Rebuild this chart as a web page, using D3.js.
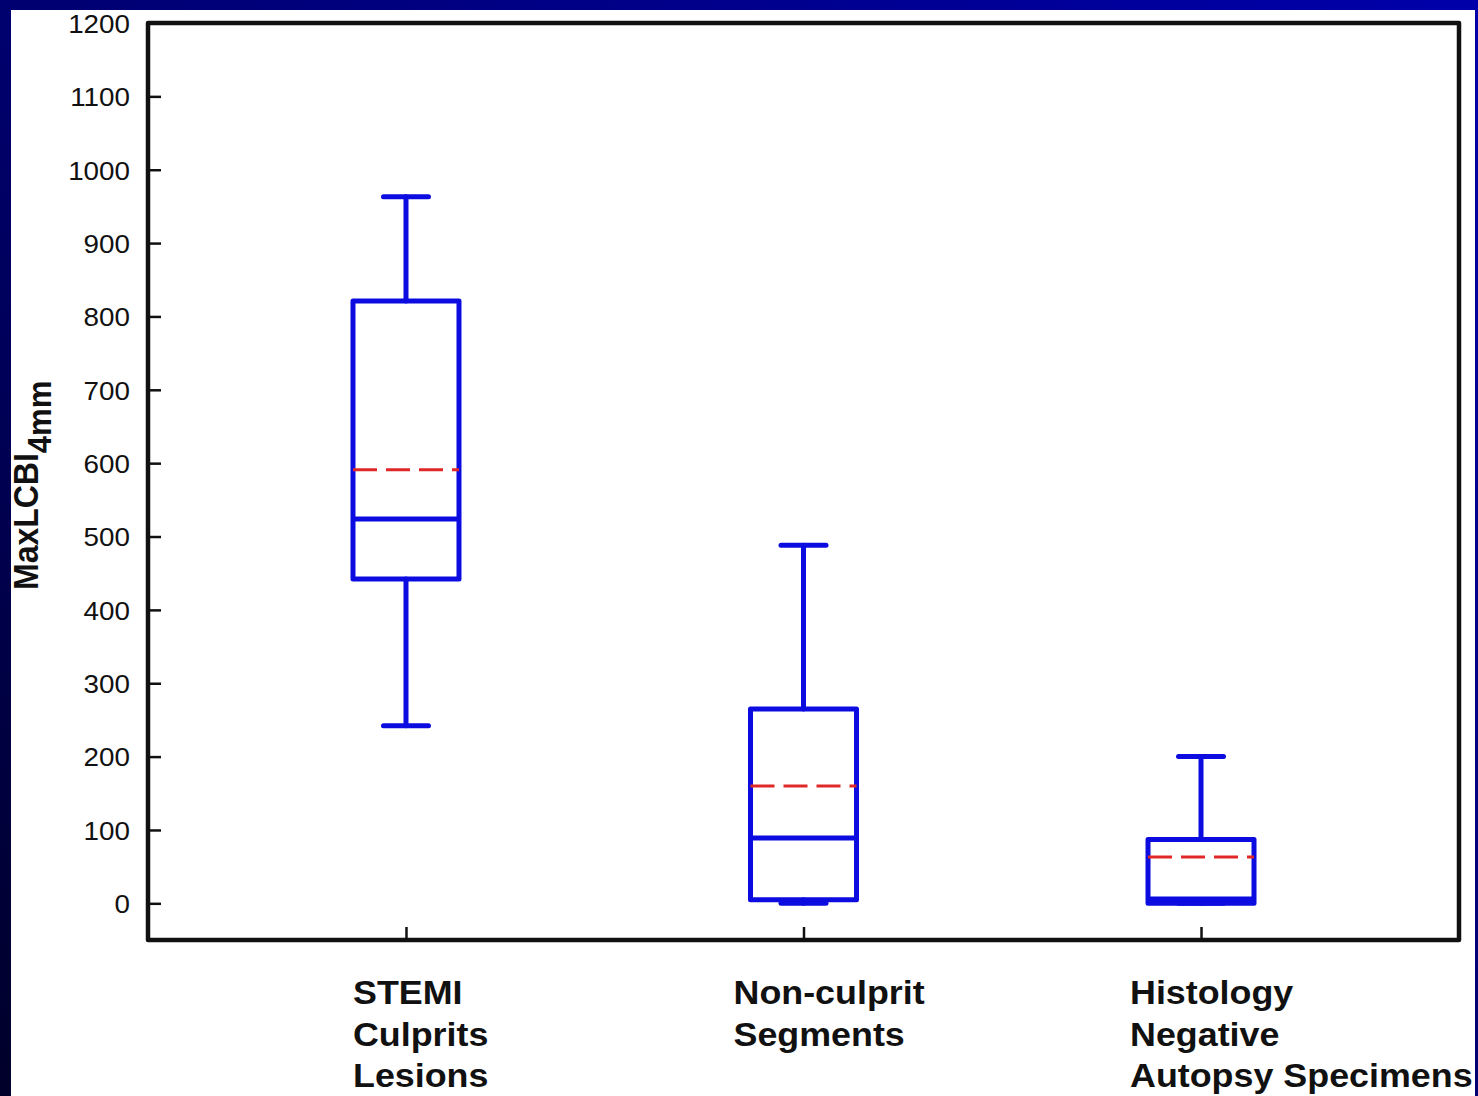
<!DOCTYPE html>
<html>
<head>
<meta charset="utf-8">
<script src="https://cdn.jsdelivr.net/npm/d3@7"></script>
<style>
  html, body { margin: 0; padding: 0; background: #000050; }
  svg { display: block; }
  text { font-family: "Liberation Sans", Arial, Helvetica, sans-serif; }
</style>
</head>
<body>
<script>
// ---------- DATA ----------
const categories = ["STEMI Culprits Lesions", "Non-culprit Segments", "Histology Negative Autopsy Specimens"];
const categoryLines = [["STEMI", "Culprits", "Lesions"], ["Non-culprit", "Segments"], ["Histology", "Negative", "Autopsy Specimens"]];
const whiskerLow  = [242, 0, 0];
const q1          = [442, 5, 0];
const median      = [524, 89, 6];
const q3          = [821, 265, 87];
const whiskerHigh = [963, 488, 200];
const mean        = [591, 160, 63];
const yTicks = [0, 100, 200, 300, 400, 500, 600, 700, 800, 900, 1000, 1100, 1200];
const yLabelMain = "MaxLCBI";
const yLabelSub = "4mm";

// ---------- LAYOUT ----------
const W = 1478, H = 1096;
const frame = { left: 148, top: 23, right: 1459, bottom: 940 };
const blue = "#0c0ce0";
const red = "#e02828";
const sx = 1.07; // horizontal stretch of the original picture

const svg = d3.select("body").append("svg").attr("width", W).attr("height", H);

const defs = svg.append("defs");
const grad = defs.append("linearGradient").attr("id", "bg")
  .attr("x1", "0").attr("y1", "1").attr("x2", "1").attr("y2", "0");
grad.append("stop").attr("offset", "0").attr("stop-color", "#00002a");
grad.append("stop").attr("offset", "0.5").attr("stop-color", "#000070");
grad.append("stop").attr("offset", "1").attr("stop-color", "#0000aa");

svg.append("rect").attr("width", W).attr("height", H).attr("fill", "url(#bg)");
svg.append("rect").attr("x", 11).attr("y", 10).attr("width", 1464).attr("height", H - 10).attr("fill", "#ffffff");

const y = d3.scaleLinear().domain([-50, 1200]).range([frame.bottom, frame.top]);
const x = d3.scalePoint().domain(categories).range([frame.left, frame.right]).padding(0.649);

// frame
svg.append("rect")
  .attr("x", frame.left).attr("y", frame.top)
  .attr("width", frame.right - frame.left).attr("height", frame.bottom - frame.top)
  .attr("fill", "none").attr("stroke", "#111").attr("stroke-width", 4.5)
  .attr("stroke-linejoin", "round");

// y axis (ticks inward)
const yAxis = d3.axisLeft(y).tickValues(yTicks).tickSize(-13).tickPadding(0).tickFormat(d3.format("d"));
const gy = svg.append("g").attr("transform", `translate(${frame.left},0)`).call(yAxis);
gy.select(".domain").remove();
gy.selectAll(".tick line").attr("stroke", "#111").attr("stroke-width", 2.5)
  .attr("display", d => d === 1200 ? "none" : null);
gy.selectAll(".tick text").remove();
gy.selectAll(".tick").append("text")
  .attr("transform", `translate(-18,0) scale(${sx},1)`)
  .attr("text-anchor", "end").attr("dy", "0.36em")
  .attr("font-size", 26).attr("fill", "#111")
  .text(d => d3.format("d")(d));

// x axis ticks (inward, upward)
const xAxis = d3.axisBottom(x).tickSize(-13).tickFormat("");
const gx = svg.append("g").attr("transform", `translate(0,${frame.bottom})`).call(xAxis);
gx.select(".domain").remove();
gx.selectAll(".tick line").attr("stroke", "#111").attr("stroke-width", 2.5);

// category labels
const labelDx = [-53, -70, -71];
const lineBase = [1004, 1045.5, 1087];
categories.forEach((c, i) => {
  const g = svg.append("g").attr("transform", `translate(${x(c) + labelDx[i]},0)`);
  categoryLines[i].forEach((ln, j) => {
    g.append("text")
      .attr("transform", `translate(0,${lineBase[j]}) scale(${sx},1)`)
      .attr("font-size", 33.5).attr("font-weight", "bold").attr("fill", "#111")
      .text(ln);
  });
});

// y label
const yl = svg.append("text")
  .attr("transform", `translate(38,590) scale(${sx},1) rotate(-90)`)
  .attr("font-size", 32).attr("font-weight", "bold").attr("fill", "#111");
yl.append("tspan").text(yLabelMain);
yl.append("tspan").attr("font-size", 31).attr("dy", 12).text(yLabelSub);

// boxes
const boxW = 106, capW = 45;
const gb = svg.append("g");
categories.forEach((c, i) => {
  const cx = x(c);
  const g = gb.append("g");
  const st = { stroke: blue, "stroke-width": 5, "stroke-linecap": "round" };
  const line = (x1, y1, x2, y2, s) => {
    const l = g.append("line").attr("x1", x1).attr("y1", y1).attr("x2", x2).attr("y2", y2);
    Object.entries(s).forEach(([k, v]) => l.attr(k, v));
    return l;
  };
  // whiskers
  line(cx, y(q3[i]), cx, y(whiskerHigh[i]), st);
  line(cx, y(q1[i]), cx, y(whiskerLow[i]), st);
  line(cx - capW / 2, y(whiskerHigh[i]), cx + capW / 2, y(whiskerHigh[i]), st);
  line(cx - capW / 2, y(whiskerLow[i]), cx + capW / 2, y(whiskerLow[i]), st);
  // box
  g.append("rect")
    .attr("x", cx - boxW / 2).attr("y", y(q3[i]))
    .attr("width", boxW).attr("height", y(q1[i]) - y(q3[i]))
    .attr("fill", "none").attr("stroke", blue).attr("stroke-width", 5)
    .attr("stroke-linejoin", "round");
  // median
  line(cx - boxW / 2, y(median[i]), cx + boxW / 2, y(median[i]), { stroke: blue, "stroke-width": 5 });
  // mean (dashed red)
  line(cx - boxW / 2, y(mean[i]), cx + boxW / 2, y(mean[i]),
    { stroke: red, "stroke-width": 3, "stroke-dasharray": "24,9" });
});
</script>
</body>
</html>
